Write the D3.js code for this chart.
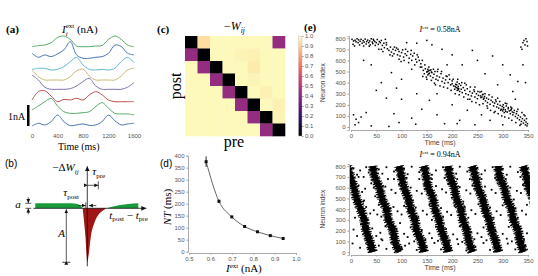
<!DOCTYPE html>
<html>
<head>
<meta charset="UTF-8">
<script src="https://d3js.org/d3.v7.min.js"></script>
<style>
  body { margin: 0; background: #fff; }
  text { font-family: "Liberation Sans", Arial, sans-serif; }
  .serif { font-family: "Liberation Serif", "DejaVu Serif", serif; }
  .tick text { fill: #555; font-size: 6px; }
  .tick line { stroke: #999; }
  .domain { stroke: #aaa; }
</style>
</head>
<body>
<svg id="fig" width="538" height="276">
  <defs>
    <marker id="arr" markerWidth="6" markerHeight="6" refX="5" refY="3" orient="auto" markerUnits="userSpaceOnUse">
      <path d="M0,0.6 L5,3 L0,5.4 Z" fill="#111"/>
    </marker>
    <marker id="arrS" markerWidth="5" markerHeight="5" refX="4" refY="2.5" orient="auto" markerUnits="userSpaceOnUse">
      <path d="M0,0.6 L4,2.5 L0,4.4 Z" fill="#111"/>
    </marker>
  </defs>
</svg>
<script>
// ---- (a) external currents, nA above each neuron's resting level, every 100 ms
const traceTimes = [0,100,200,300,400,500,600,700,800,900,1000,1100,1200,1300,1400,1500,1600];
const traceColors = ["#55a868","#4c72b0","#64b5cd","#ccb974","#8172b2","#c44e52","#55a868","#4c72b0"];
const currents = [
  [0,.05,.08,.19,.44,.51,.35,.03,0,0,.03,.06,.35,.51,.35,.08,0],
  [.24,.05,.16,.08,.21,.40,.79,.16,0,0,.05,.08,.24,.63,.56,.24,.16],
  [.03,.08,.08,0,.03,.16,.40,.60,.24,.03,0,.03,0,.08,.40,.60,.35],
  [.48,.16,0,0,0,0,.16,.44,.52,.19,0,0,0,0,.19,.48,.56],
  [.68,.44,.10,0,0,0,.03,.16,.37,.52,.16,0,0,0,0,.10,.32],
  [.08,.48,.52,.27,0,.11,.08,.16,.08,.32,.48,.32,.08,0,0,0,0],
  [.24,.43,.63,.79,.43,.16,.08,.08,.11,.16,.40,.59,.32,.08,.05,.05,0],
  [0,.13,.05,.21,.52,.21,.02,.05,.10,.03,.05,.21,.52,.25,.05,.10,.13]
];
const timeTicksA = [0,400,800,1200,1600];

// ---- (b) learning window sketch
const winLeft = [[-52,5],[-20,5],[-13,4.8],[-10,4.3],[-7,2.7],[-4.6,0]];
const winDip = [[-4.6,0],[-3.3,-13],[-1.7,-30],[-0.7,-47],[0,-54],[1.3,-47],[3.3,-30],[7.7,-13],[11,-6.7],[14.3,-3.3],[19.3,0]];
const winRight = [[19.3,0],[26,1.7],[32.7,3.3],[41,4.3],[51,5]];

// ---- (c) weight matrix -W_ij (rows post, cols pre)
const wMatrix = [
  [0.00,0.93,0.99,0.99,0.99,0.99,0.99,0.42],
  [0.42,0.00,0.99,0.99,0.98,0.97,0.99,0.99],
  [0.99,0.42,0.00,0.99,0.99,0.96,0.99,0.99],
  [0.99,0.99,0.42,0.00,0.99,0.98,0.99,0.99],
  [0.99,0.99,0.99,0.42,0.00,0.99,0.97,0.99],
  [0.99,0.99,0.99,0.99,0.42,0.00,0.99,0.97],
  [0.99,0.99,0.99,0.99,0.99,0.42,0.00,0.98],
  [0.99,0.99,0.99,0.99,0.99,0.99,0.42,0.00]
];
const cbarTicks = [0,0.1,0.2,0.3,0.4,0.5,0.6,0.7,0.8,0.9,1.0];

// ---- (d) period vs input
const iExt = [0.58,0.64,0.70,0.76,0.82,0.88,0.94];
const ntMs = [375,210,145,105,83,67,55];
const ntErr = [22,7,4,3,2,2,2];

// ---- (e) rasters [time ms, neuron]
const spikesLow = [
  [2,790],[5,775],[8,782],[10,768],[12,795],[14,760],[15,785],[18,772],[20,790],[22,755],[24,778],[26,765],[28,792],[30,748],[31,770],[33,783],[35,760],[37,775],[38,740],[40,795],[42,765],[43,752],[45,780],[47,770],[48,735],[50,760],[52,788],[54,745],[56,770],[58,760],[60,780],[62,735],[65,755],[68,790],[70,740],[4,745],[7,730],[17,740],[25,730],[36,728],[44,790],
  [72,705],[75,690],[78,720],[80,675],[83,700],[85,660],[88,690],[90,712],[92,650],[95,680],[97,640],[100,670],[102,695],[104,630],[107,660],[110,645],[112,680],[115,620],[118,655],[120,600],[122,640],[125,665],[128,610],[130,585],[133,630],[135,600],[138,570],[82,640],[95,610],[105,600],[60,700],[66,715],
  [140,540],[143,510],[145,480],[147,525],[150,495],[152,470],[153,505],[155,485],[157,460],[158,515],[160,490],[162,445],[164,475],[166,500],[168,430],[170,460],[172,420],[175,450],[178,480],[180,410],[182,440],[185,395],[187,425],[190,455],[192,400],[195,430],[197,380],[200,415],[142,455],[150,430],[165,395],[172,520],
  [200,390],[203,370],[205,340],[207,385],[208,355],[210,330],[212,365],[213,345],[215,320],[217,375],[218,340],[220,310],[222,355],[225,330],[227,300],[230,345],[232,290],[235,320],[238,280],[240,305],[243,335],[245,270],[248,300],[250,255],[252,285],[255,315],[257,265],[260,290],[210,405],[225,395],[235,250],[245,360],
  [262,250],[264,275],[266,235],[268,260],[270,220],[272,250],[275,205],[277,240],[280,225],[282,190],[284,215],[286,245],[288,180],[290,205],[292,170],[295,195],[297,160],[299,185],[300,145],[302,175],[305,155],[307,190],[309,135],[311,165],[313,145],[315,120],[317,160],[319,135],[270,170],[290,260],[305,215],[285,140],
  [320,110],[322,130],[325,95],[327,120],[329,80],[331,105],[333,65],[335,90],[337,50],[339,75],[341,35],[343,60],[345,20],[346,45],[348,10],[349,30],[328,140],[336,25],[342,110],
  [336,720],[338,700],[340,760],[342,780],[344,740],[346,795],[348,770],[349,730],
  [55,700],[63,680],[70,760],[77,650],[86,720],[93,700],[99,590],[108,700],[114,580],[119,690],[126,560],[131,650],[137,540],[141,600],[146,560],[149,450],[154,540],[159,420],[163,520],[167,380],[171,500],[176,370],[179,500],[183,360],[188,460],[191,350],[194,470],[198,330],[202,430],[206,300],[211,430],[214,290],[219,400],[223,270],[228,380],[231,250],[236,360],[239,230],[244,320],[247,220],[251,320],[254,200],[258,320],[261,210],[265,300],[269,190],[273,290],[276,150],[279,270],[283,130],[287,230],[291,120],[294,230],[298,100],[301,200],[304,90],[308,210],[312,80],[316,180],[318,60],[323,150],[326,40],[330,160],[334,15],[338,130],[344,100],[347,75],
  [151,500],[154,480],[156,510],[159,495],[152,520],[206,365],[209,380],[211,350],[214,390],[212,335],[256,280],[259,270],[261,295],[263,260],[296,150],[301,160],[306,140],[311,175],[316,150],[318,170],[303,130],
  [5,110],[10,70],[15,40],[8,20],[20,90],[30,130],[40,10],[75,5],[85,120],[95,40],[120,80],[128,25],[140,160],[155,240],[170,110],[185,30],[200,200],[215,60],[230,150],[245,20],[258,110],[275,60],[300,20],[320,320],[330,410],[315,470],[300,560],[280,640],[250,600],[240,690],[220,560],[200,650],[180,700],[160,740],[150,780],[130,755],[110,760],[120,520],[100,430],[80,490],[60,400],[50,330],[70,260],[40,560],[25,600],[190,560],[265,480],[290,380],[340,560],[345,400],[325,250],[210,30],[170,300],[130,300],[100,250],[90,350]
];
const stripeLevels = [800,700,600,500,400,300,200,100,0];
const stripeTimes = [
  [-7,-1,6,11,19,26,30,37,43],
  [43,47,56,61,70,74,83,87,95],
  [95,100,105,113,118,126,130,139,144],
  [144,149,153,162,166,174,179,187,192],
  [192,196,204,208,217,221,229,233,240],
  [240,246,251,260,265,273,278,286,291],
  [291,294,303,308,317,321,330,334,341],
  [341,347,351,360,365,373,378,386,391]
];
const spikesHigh = [
  [5,780],[18,760],[30,790],[12,720],[25,700],[35,740],[15,620],[28,590],[40,640],[22,560],[45,600],[30,420],[45,390],[55,440],[38,360],[42,220],[58,180],[68,240],[50,150],[55,60],[70,30],[80,90],[62,110],[5,210],[12,150],[3,80],[18,40],[8,320],[20,260],
  [55,770],[70,790],[85,750],[62,730],[68,610],[80,580],[95,630],[88,550],[78,410],[92,380],[105,430],[100,350],[90,210],[105,170],[118,230],[112,140],[100,40],[115,80],[130,20],[125,100],
  [105,775],[120,795],[135,745],[112,725],[118,600],[130,570],[145,625],[140,545],[128,415],[142,385],[155,440],[150,350],[140,205],[155,175],[168,235],[160,130],[150,45],[165,85],[178,25],[172,105],
  [152,780],[168,760],[182,790],[160,720],[168,615],[180,585],[192,635],[188,555],[178,410],[190,375],[205,430],[198,345],[188,215],[202,165],[215,240],[210,120],[198,35],[212,75],[228,15],[220,95],
  [200,770],[215,795],[230,750],[208,730],[215,605],[228,575],[240,620],[236,545],[225,420],[238,390],[252,445],[246,355],[235,210],[250,175],[262,230],[258,140],[246,50],[262,85],[275,20],[268,110],
  [250,785],[265,760],[280,790],[258,725],[265,610],[278,580],[290,640],[286,550],[275,415],[288,380],[300,435],[296,345],[285,205],[300,170],[312,235],[308,125],[296,40],[310,80],[325,25],[318,100],
  [300,775],[315,795],[330,745],[308,720],[315,600],[328,570],[340,625],[336,550],[325,410],[338,385],[348,440],[346,350],[335,215],[348,175],[345,60],[340,100],
  [10,500],[24,470],[60,330],[75,300],[110,520],[122,480],[160,300],[172,270],[210,500],[222,470],[265,330],[272,300],[310,520],[322,490],[35,30],[85,680],[135,680],[185,690],[235,680],[285,690],[335,700],
  [15,700],[8,560],[26,480],[33,300],[48,520],[52,350],[60,120],[73,680],[66,520],[84,420],[97,270],[107,60],[110,690],[116,520],[133,330],[147,120],[160,680],[163,510],[182,330],[195,110],[210,680],[213,500],[232,320],[244,120],[258,680],[262,500],[282,320],[293,110],[306,680],[312,500],[330,320],[342,120],[20,380],[70,380],[120,390],[170,400],[220,380],[270,390],[320,380],[44,700],[94,710],[144,700],[194,710],[244,700],[294,710],[344,700]
];
const neuronTicks = [0,100,200,300,400,500,600,700,800];
const rasterTimeTicks = [0,50,100,150,200,250,300,350];

const svg = d3.select("#fig");

function label(x, y, s, cls, size, weight) {
  return svg.append("text").attr("x", x).attr("y", y).attr("class", cls || "")
    .attr("font-size", size || 11).attr("font-weight", weight || "normal").text(s);
}

// ================= (a) =================
label(6, 33, "(a)", "serif", 11, "bold");
let ta = svg.append("text").attr("class", "serif").attr("x", 62).attr("y", 33).attr("font-size", 11);
ta.append("tspan").attr("font-style", "italic").text("I");
ta.append("tspan").attr("font-size", 7).attr("dy", 3).attr("font-style", "italic").text("i");
ta.append("tspan").attr("font-size", 7).attr("dx", -2).attr("dy", -8).text("ext");
ta.append("tspan").attr("dy", 5).text(" (nA)");

let xa = d3.scaleLinear().domain([0, 1600]).range([32, 134]);
const rowY = [46.7, 58.3, 70, 80, 89.3, 101.7, 115, 126];
const pxPerNA = 21;
currents.forEach((vals, k) => {
  let line = d3.line()
    .x((v, i) => xa(traceTimes[i]))
    .y(v => rowY[k] - v * pxPerNA)
    .curve(d3.curveCatmullRom);
  svg.append("path").attr("d", line(vals)).attr("fill", "none")
    .attr("stroke", traceColors[k]).attr("stroke-width", 1);
});
svg.append("g").attr("transform", "translate(0,131)")
  .call(d3.axisBottom(xa).tickValues(timeTicksA).tickFormat(d3.format("d")).tickSize(0).tickPadding(3))
  .call(g => g.select(".domain").remove());
label(58, 150, "Time (ms)", "serif", 10);
svg.append("rect").attr("x", 27).attr("y", 105).attr("width", 2.5).attr("height", pxPerNA).attr("fill", "#000");
label(8, 120, "1nA", "serif", 10);

// ================= (b) =================
label(5, 167, "(b)", "", 10);
let bx = d3.scaleLinear().domain([-55, 60]).range([32.3, 147.3]);
let by = d3.scaleLinear().domain([-60, 45]).range([268.3, 163.3]);
let area = d3.area().x(d => bx(d[0])).y0(by(0)).y1(d => by(d[1])).curve(d3.curveMonotoneX);
svg.append("path").attr("d", area(winLeft)).attr("fill", "#1a9a3a");
svg.append("path").attr("d", area(winRight)).attr("fill", "#1a9a3a");
svg.append("path").attr("d", area(winDip)).attr("fill", "#a01515");
// axes
svg.append("line").attr("x1", bx(-54)).attr("x2", bx(59)).attr("y1", by(0)).attr("y2", by(0))
  .attr("stroke", "#111").attr("stroke-width", 0.8).attr("marker-end", "url(#arr)");
svg.append("line").attr("x1", bx(0)).attr("x2", bx(0)).attr("y1", by(-58)).attr("y2", by(42))
  .attr("stroke", "#111").attr("stroke-width", 0.8).attr("marker-end", "url(#arr)");
// A
svg.append("line").attr("x1", bx(-21)).attr("x2", bx(-21)).attr("y1", by(-52.5)).attr("y2", by(-1))
  .attr("stroke", "#111").attr("stroke-width", 0.7).attr("marker-end", "url(#arrS)").attr("marker-start", "url(#arrS)");
svg.append("line").attr("x1", bx(-25)).attr("x2", bx(-17)).attr("y1", by(-54)).attr("y2", by(-54))
  .attr("stroke", "#111").attr("stroke-width", 0.8);
label(bx(-29), by(-29), "A", "serif", 11).attr("font-style", "italic");
// a
[5, 0].forEach(w => svg.append("line").attr("x1", bx(-62)).attr("x2", bx(-56)).attr("y1", by(w)).attr("y2", by(w))
  .attr("stroke", "#111").attr("stroke-width", 0.7));
svg.append("line").attr("x1", bx(-59)).attr("x2", bx(-59)).attr("y1", by(11)).attr("y2", by(5.3))
  .attr("stroke", "#111").attr("stroke-width", 0.7).attr("marker-end", "url(#arrS)");
svg.append("line").attr("x1", bx(-59)).attr("x2", bx(-59)).attr("y1", by(-6)).attr("y2", by(-0.3))
  .attr("stroke", "#111").attr("stroke-width", 0.7).attr("marker-end", "url(#arrS)");
label(bx(-72), by(0.5), "a", "serif", 11).attr("font-style", "italic");
// tau pre
svg.append("line").attr("x1", bx(0.5)).attr("x2", bx(11)).attr("y1", by(23)).attr("y2", by(23))
  .attr("stroke", "#111").attr("stroke-width", 0.7).attr("marker-end", "url(#arrS)").attr("marker-start", "url(#arrS)");
svg.append("line").attr("x1", bx(11)).attr("x2", bx(11)).attr("y1", by(27)).attr("y2", by(19))
  .attr("stroke", "#111").attr("stroke-width", 0.7);
let tp = svg.append("text").attr("class", "serif").attr("x", bx(5)).attr("y", by(33)).attr("font-size", 11);
tp.append("tspan").attr("font-style", "italic").text("τ");
tp.append("tspan").attr("font-size", 7).attr("dy", 2.5).text("pre");
// tau post
svg.append("line").attr("x1", bx(-9)).attr("x2", bx(-1.6)).attr("y1", by(2.7)).attr("y2", by(2.7))
  .attr("stroke", "#111").attr("stroke-width", 0.7).attr("marker-end", "url(#arrS)");
svg.append("line").attr("x1", bx(9)).attr("x2", bx(1.6)).attr("y1", by(2.7)).attr("y2", by(2.7))
  .attr("stroke", "#111").attr("stroke-width", 0.7).attr("marker-end", "url(#arrS)");
svg.append("line").attr("x1", bx(-1.5)).attr("x2", bx(-1.5)).attr("y1", by(6)).attr("y2", by(0))
  .attr("stroke", "#111").attr("stroke-width", 0.7);
let tq = svg.append("text").attr("class", "serif").attr("x", bx(-24)).attr("y", by(12)).attr("font-size", 11);
tq.append("tspan").attr("font-style", "italic").text("τ");
tq.append("tspan").attr("font-size", 7).attr("dy", 2.5).text("post");
// -dW label
let dw = svg.append("text").attr("class", "serif").attr("x", bx(-35)).attr("y", by(37)).attr("font-size", 11);
dw.append("tspan").text("−Δ");
dw.append("tspan").attr("font-style", "italic").text("W");
dw.append("tspan").attr("font-size", 7).attr("dy", 2.5).attr("font-style", "italic").text("ij");
// t axis label
let tl = svg.append("text").attr("class", "serif").attr("x", bx(22)).attr("y", by(-10.5)).attr("font-size", 11);
tl.append("tspan").attr("font-style", "italic").text("t");
tl.append("tspan").attr("font-size", 7).attr("dy", 2.5).text("post");
tl.append("tspan").attr("dy", -2.5).text(" − ");
tl.append("tspan").attr("font-style", "italic").text("t");
tl.append("tspan").attr("font-size", 7).attr("dy", 2.5).text("pre");

// ================= (c) =================
label(157, 33, "(c)", "serif", 11, "bold");
let tc = svg.append("text").attr("class", "serif").attr("x", 224).attr("y", 30).attr("font-size", 12);
tc.append("tspan").text("−");
tc.append("tspan").attr("font-style", "italic").text("W");
tc.append("tspan").attr("font-size", 7.5).attr("dy", 2.5).attr("font-style", "italic").text("ij");
let idx = d3.range(wMatrix.length);
let cx = d3.scaleBand().domain(idx).range([185, 285]);
let cy = d3.scaleBand().domain(idx).range([36, 136]);
let col = d3.scaleSequential(d3.interpolateMagma).domain([0, 1]);
wMatrix.forEach((row, i) => row.forEach((v, j) => {
  svg.append("rect").attr("x", cx(j)).attr("y", cy(i))
    .attr("width", cx.bandwidth() + 0.3).attr("height", cy.bandwidth() + 0.3).attr("fill", col(v));
}));
label(234, 147, "pre", "serif", 16).attr("text-anchor", "middle");
label(0, 0, "post", "serif", 16).attr("text-anchor", "middle")
  .attr("transform", "translate(181,86) rotate(-90)");
// colorbar
let grad = svg.select("defs").append("linearGradient").attr("id", "cb")
  .attr("x1", 0).attr("y1", 1).attr("x2", 0).attr("y2", 0);
d3.range(0, 1.01, 0.1).forEach(s => grad.append("stop").attr("offset", s).attr("stop-color", col(s)));
let cbs = d3.scaleLinear().domain([0, 1]).range([136, 36]);
svg.append("rect").attr("x", 298.5).attr("y", 36).attr("width", 3.5).attr("height", 100)
  .attr("fill", "url(#cb)").attr("stroke", "#bbb").attr("stroke-width", 0.4);
svg.append("g").attr("transform", "translate(302,0)")
  .call(d3.axisRight(cbs).tickValues(cbarTicks).tickFormat(d3.format(".1f")).tickSize(1.5).tickPadding(1.5))
  .call(g => g.select(".domain").remove())
  .selectAll("text").attr("font-size", 5);

// ================= (d) =================
label(160, 167, "(d)", "", 10);
let dx = d3.scaleLinear().domain([0.5, 1.0]).range([189, 296]);
let dy = d3.scaleLinear().domain([0, 400]).range([251.7, 155.7]);
svg.append("g").attr("transform", "translate(0,253)")
  .call(d3.axisBottom(dx).tickValues([0.5,0.6,0.7,0.8,0.9,1.0]).tickFormat(d3.format(".1f")).tickSize(1.5).tickPadding(2));
svg.append("g").attr("transform", "translate(188,0)")
  .call(d3.axisLeft(dy).ticks(8).tickSize(1.5).tickPadding(2));
let dline = d3.line().x((d, i) => dx(iExt[i])).y(d => dy(d)).curve(d3.curveMonotoneX);
svg.append("path").attr("d", dline(ntMs)).attr("fill", "none").attr("stroke", "#555").attr("stroke-width", 0.9);
ntMs.forEach((v, i) => {
  svg.append("line").attr("x1", dx(iExt[i])).attr("x2", dx(iExt[i]))
    .attr("y1", dy(v - ntErr[i])).attr("y2", dy(v + ntErr[i])).attr("stroke", "#111").attr("stroke-width", 0.9);
  svg.append("rect").attr("x", dx(iExt[i]) - 1.5).attr("y", dy(v) - 1.5)
    .attr("width", 3).attr("height", 3).attr("fill", "#111");
});
let dl = svg.append("text").attr("class", "serif").attr("x", 226).attr("y", 272).attr("font-size", 11);
dl.append("tspan").attr("font-style", "italic").text("I");
dl.append("tspan").attr("font-size", 7).attr("dy", -4).text("ext");
dl.append("tspan").attr("dy", 4).text(" (nA)");
let nl = svg.append("text").attr("class", "serif").attr("font-size", 11).attr("text-anchor", "middle")
  .attr("transform", "translate(171,207) rotate(-90)");
nl.append("tspan").attr("font-style", "italic").text("NT");
nl.append("tspan").text(" (ms)");

// ================= (e) =================
label(304, 31, "(e)", "serif", 11, "bold");
let ex = d3.scaleLinear().domain([0, 350]).range([351, 528]);

function raster(top, bottom, title, titleY) {
  let ey = d3.scaleLinear().domain([-27, 820]).range([bottom, top]);
  svg.append("g").attr("transform", `translate(0,${bottom})`)
    .call(d3.axisBottom(ex).tickValues(rasterTimeTicks).tickSize(1.5).tickPadding(2));
  svg.append("g").attr("transform", "translate(349,0)")
    .call(d3.axisLeft(ey).tickValues(neuronTicks).tickSize(1.5).tickPadding(2));
  label(0, 0, "Neuron index", "", 6.5).attr("fill", "#444").attr("text-anchor", "middle")
    .attr("transform", `translate(325,${ey(400)}) rotate(-90)`);
  label(440, bottom + 15, "Time (ms)", "", 7).attr("fill", "#444").attr("text-anchor", "middle");
  let t = svg.append("text").attr("class", "serif").attr("x", 440).attr("y", titleY)
    .attr("font-size", 8).attr("text-anchor", "middle");
  t.append("tspan").attr("font-style", "italic").text("I");
  t.append("tspan").attr("font-size", 5).attr("dy", -3).text("ext");
  t.append("tspan").attr("dy", 3).text(" = " + title);
  return ey;
}

let eyTop = raster(36, 130, "0.58nA", 32);
svg.append("g").selectAll("rect").data(spikesLow).join("rect")
  .attr("x", d => ex(d[0]) - 0.75).attr("y", d => eyTop(d[1]) - 0.75)
  .attr("width", 1.5).attr("height", 1.5).attr("fill", "#000");

let eyBot = raster(164, 255, "0.94nA", 157);
svg.select("defs").append("clipPath").attr("id", "clipE")
  .append("rect").attr("x", 350).attr("y", 163).attr("width", 180).attr("height", 92);
let sg = svg.append("g").attr("clip-path", "url(#clipE)");
let sline = d3.line().x(d => ex(d[0])).y(d => eyBot(d[1])).curve(d3.curveCatmullRom);
stripeTimes.forEach(ts => {
  let pts = ts.map((t, i) => [t, stripeLevels[i]]);
  sg.append("path").attr("d", sline(pts)).attr("fill", "none")
    .attr("stroke", "#000").attr("stroke-width", 10).attr("stroke-dasharray", "0.9 1.6 1.4 0.8 0.6 2.1 1.1 1.0");
  sg.append("path").attr("d", sline(pts)).attr("fill", "none")
    .attr("stroke", "#000").attr("stroke-width", 7).attr("stroke-dasharray", "2.5 0.6 1.8 0.9 3 0.5");
  sg.append("path").attr("d", sline(pts)).attr("fill", "none")
    .attr("stroke", "#000").attr("stroke-width", 4.5);
});
sg.selectAll("rect.sp").data(spikesHigh).join("rect").attr("class", "sp")
  .attr("x", d => ex(d[0]) - 0.9).attr("y", d => eyBot(d[1]) - 0.9)
  .attr("width", 1.8).attr("height", 1.8).attr("fill", "#000");
</script>
</body>
</html>
